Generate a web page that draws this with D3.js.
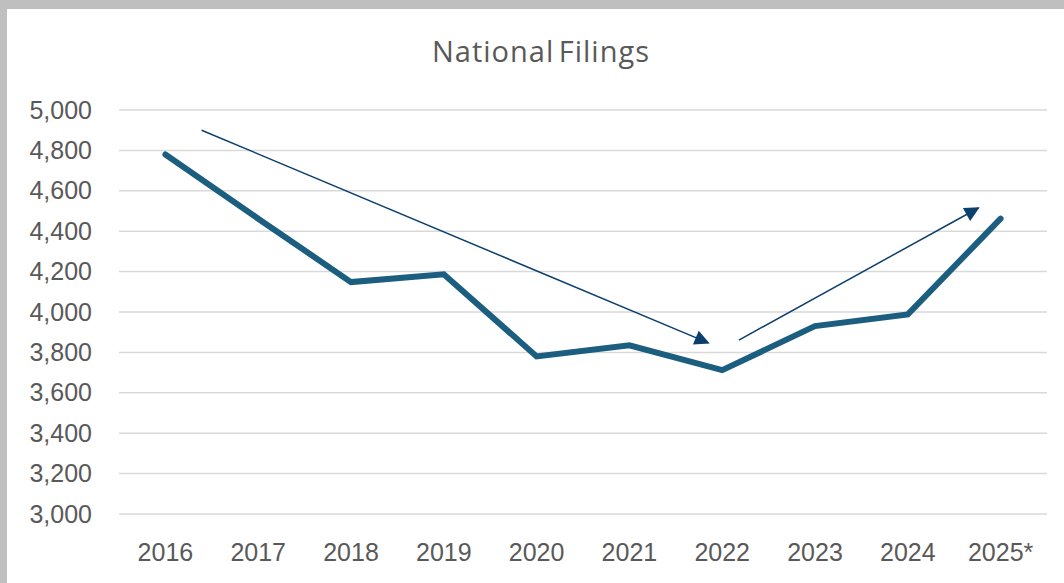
<!DOCTYPE html>
<html>
<head>
<meta charset="utf-8">
<script src="https://cdn.jsdelivr.net/npm/d3@7"></script>
<style>
  html, body { margin: 0; padding: 0; background: #fff; }
  svg { display: block; }
</style>
</head>
<body>
<svg id="chart" width="1064" height="583"></svg>
<script>
// data
var years = ["2016", "2017", "2018", "2019", "2020", "2021", "2022", "2023", "2024", "2025*"];
var filings = [4780, 4462, 4148, 4187, 3780, 3835, 3712, 3930, 3988, 4462];
var yTicks = [3000, 3200, 3400, 3600, 3800, 4000, 4200, 4400, 4600, 4800, 5000];
var chartTitle = "National Filings";

// trend arrows, in data units: [category position, value]
var trendDown = [[0.39, 4900], [5.85, 3847]];
var trendUp = [[6.18, 3861], [8.76, 4515]];

var svg = d3.select("#chart"),
    width = +svg.attr("width"),
    height = +svg.attr("height");

var plot = { left: 119, right: 1047, top: 110, bottom: 514 };

// frame
svg.append("rect").attr("width", width).attr("height", height).attr("fill", "#bfbfbf");
svg.append("rect").attr("x", 7).attr("y", 9).attr("width", width - 7).attr("height", height - 9)
    .attr("fill", "#ffffff");

var x = d3.scaleBand().domain(years).range([plot.left, plot.right]).paddingInner(0).paddingOuter(0);
var y = d3.scaleLinear().domain([3000, 5000]).range([plot.bottom, plot.top]);
// fractional category positions for the annotation arrows
var xPos = function (i) { return x(years[0]) + x.bandwidth() * (i + 0.5); };

// title
svg.append("text")
    .attr("x", 541)
    .attr("y", 62)
    .attr("text-anchor", "middle")
    .attr("font-family", "'Open Sans', Lato, sans-serif")
    .attr("font-size", 29)
    .attr("letter-spacing", 1)
    .attr("word-spacing", -4)
    .attr("fill", "#595959")
    .text(chartTitle);

// gridlines
svg.append("g")
    .selectAll("line")
    .data(yTicks)
    .enter().append("line")
    .attr("x1", plot.left).attr("x2", plot.right)
    .attr("y1", function (d) { return y(d); })
    .attr("y2", function (d) { return y(d); })
    .attr("stroke", "#d9d9d9")
    .attr("stroke-width", 1.5);

// y axis
var yAxis = svg.append("g")
    .attr("transform", "translate(" + 92 + ",0)")
    .call(d3.axisLeft(y).tickValues(yTicks).tickSize(0).tickPadding(0).tickFormat(d3.format(",")));
yAxis.select(".domain").remove();
yAxis.selectAll("text")
    .attr("font-family", "'Liberation Sans', Arial, sans-serif")
    .attr("font-size", 25)
    .attr("fill", "#595959");

// x axis
var xAxis = svg.append("g")
    .attr("transform", "translate(0," + plot.bottom + ")")
    .call(d3.axisBottom(x).tickSize(0).tickPadding(29));
xAxis.select(".domain").remove();
xAxis.selectAll("text")
    .attr("font-family", "'Liberation Sans', Arial, sans-serif")
    .attr("font-size", 25)
    .attr("fill", "#595959");

// series line
var line = d3.line()
    .x(function (d, i) { return x(years[i]) + x.bandwidth() / 2; })
    .y(function (d) { return y(d); });

svg.append("path")
    .datum(filings)
    .attr("d", line)
    .attr("fill", "none")
    .attr("stroke", "#1b5e80")
    .attr("stroke-width", 6)
    .attr("stroke-linejoin", "miter")
    .attr("stroke-linecap", "round");

// arrow marker
svg.append("defs").append("marker")
    .attr("id", "arrowhead")
    .attr("viewBox", "0 0 10 10")
    .attr("refX", 9)
    .attr("refY", 5)
    .attr("markerUnits", "userSpaceOnUse")
    .attr("markerWidth", 18)
    .attr("markerHeight", 15)
    .attr("orient", "auto")
    .append("path")
    .attr("d", "M0,0 L10,5 L0,10 Z")
    .attr("fill", "#0b3f6e");

var arrowLine = d3.line()
    .x(function (d) { return xPos(d[0]); })
    .y(function (d) { return y(d[1]); });

svg.selectAll(".trend")
    .data([trendDown, trendUp])
    .enter().append("path")
    .attr("class", "trend")
    .attr("d", arrowLine)
    .attr("fill", "none")
    .attr("stroke", "#0b3f6e")
    .attr("stroke-width", 1.5)
    .attr("marker-end", "url(#arrowhead)");
</script>
</body>
</html>
